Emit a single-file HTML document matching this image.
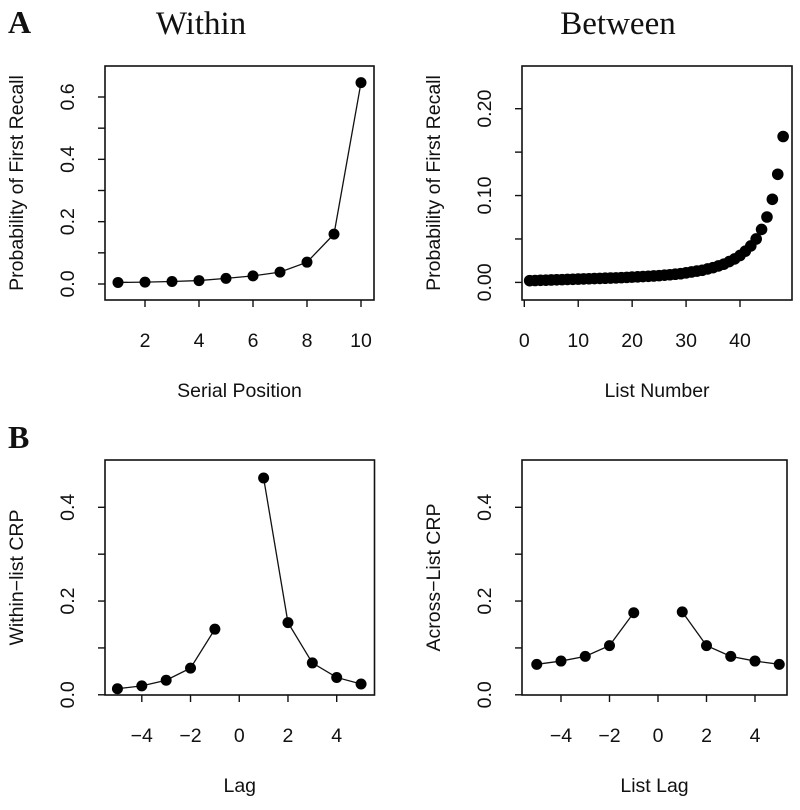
<!DOCTYPE html>
<html><head><meta charset="utf-8"><style>
body{margin:0;background:#fff;width:800px;height:805px;overflow:hidden}
text{font-family:"Liberation Sans",sans-serif;fill:#111}
</style></head><body>
<svg id="fig" width="800" height="805" xmlns="http://www.w3.org/2000/svg">
<text x="8" y="33" style="font-family:'Liberation Serif',serif;font-weight:bold;font-size:32px">A</text>
<text x="201" y="34" text-anchor="middle" style="font-family:'Liberation Serif',serif;font-size:33px">Within</text>
<text x="618" y="34" text-anchor="middle" style="font-family:'Liberation Serif',serif;font-size:33px">Between</text>
<text x="8" y="448" style="font-family:'Liberation Serif',serif;font-weight:bold;font-size:32px">B</text>
</svg>
<script>
const spX = [1,2,3,4,5,6,7,8,9,10];
const spY = [0.005,0.006,0.008,0.011,0.018,0.026,0.038,0.07,0.16,0.646];
const listX = Array.from({length:48},(_, i)=>i+1);
const listY = [0.002,0.0022,0.0024,0.0026,0.0028,0.003,0.0032,0.0034,0.0036,0.0038,0.004,0.0042,0.0044,0.0046,0.0048,0.005,0.0052,0.0055,0.0058,0.0061,0.0064,0.0067,0.007,0.0074,0.0078,0.0083,0.0088,0.0094,0.01,0.011,0.012,0.013,0.014,0.0155,0.017,0.019,0.021,0.024,0.027,0.031,0.036,0.042,0.05,0.061,0.0753,0.0957,0.1245,0.168];
const lagX = [-5,-4,-3,-2,-1,1,2,3,4,5];
const withinCRP = [0.013,0.019,0.031,0.057,0.140,0.4625,0.154,0.068,0.037,0.023];
const acrossCRP = [0.065,0.072,0.082,0.105,0.175,0.177,0.105,0.082,0.072,0.065];
const spXTicks = [2,4,6,8,10];
const spYTicks = [0,0.1,0.2,0.3,0.4,0.5,0.6];
const spYLabels = ["0.0","","0.2","","0.4","","0.6"];
const listXTicks = [0,10,20,30,40];
const listYTicks = [0,0.05,0.1,0.15,0.2];
const listYLabels = ["0.00","","0.10","","0.20"];
const lagXTicks = [-4,-2,0,2,4];
const crpYTicks = [0,0.1,0.2,0.3,0.4];
const crpYLabels = ["0.0","","0.2","","0.4"];

const NS="http://www.w3.org/2000/svg", svg=document.getElementById('fig');
function el(t,a,p){const e=document.createElementNS(NS,t);for(const k in a)e.setAttribute(k,a[k]);(p||svg).appendChild(e);return e;}

function panel(o){
  const g=el('g',{});
  
  
  const sx=v=>o.x0+(v-o.xa)*(o.x1-o.x0)/(o.xb-o.xa);
  const sy=v=>o.y0+(v-o.ya)*(o.y1-o.y0)/(o.yb-o.ya);
  const box=el('rect',{x:o.bx0,y:o.by0,width:o.bx1-o.bx0,height:o.by1-o.by0,fill:'none',stroke:'#111','stroke-width':1.6},g);
  
  
  o.xt.forEach(v=>{
    const x=sx(v);
    const t=el('line',{x1:x,x2:x,y1:o.by1,y2:o.by1+7,stroke:'#111','stroke-width':1.4},g);
    
    
    const l=el('text',{x:x,y:o.by1+47,'text-anchor':'middle','font-size':19.5},g);
    
    
    l.textContent=String(v).replace('-','\u2212');
  });
  o.yt.forEach((v,i)=>{
    const y=sy(v);
    const t=el('line',{x1:o.bx0-7,x2:o.bx0,y1:y,y2:y,stroke:'#111','stroke-width':1.4},g);
    
    
    if(o.yl[i]){
      const l=el('text',{x:0,y:0,'text-anchor':'middle','font-size':19.5,transform:`translate(${o.bx0-31},${y}) rotate(-90)`},g);
      
      
      l.textContent=o.yl[i];
    }
  });
  const xt=el('text',{x:(o.bx0+o.bx1)/2,y:o.by1+97,'text-anchor':'middle','font-size':19.5},g);
  
  
  xt.textContent=o.xtitle;
  const yt=el('text',{x:0,y:0,'text-anchor':'middle','font-size':19.5,transform:`translate(${o.bx0-82},${(o.by0+o.by1)/2}) rotate(-90)`},g);
  
  
  yt.textContent=o.ytitle;
  o.segs.forEach(seg=>{
    if(!o.line) return;
    const pl=el('polyline',{points:seg.map(i=>sx(o.X[i])+','+sy(o.Y[i])).join(' '),fill:'none',stroke:'#111','stroke-width':1.3},g);
    
    
  });
  o.X.forEach((v,i)=>{
    const c=el('circle',{cx:sx(v),cy:sy(o.Y[i]),r:o.r,fill:'#000'},g);
    
    
  });
}
panel({name:'serial-position-panel',bx0:105,bx1:374,by0:66,by1:300,xa:1,xb:10,x0:118,x1:361,ya:0,yb:0.6,y0:284,y1:97,
  xt:spXTicks,yt:spYTicks,yl:spYLabels,xtitle:'Serial Position',ytitle:'Probability of First Recall',
  X:spX,Y:spY,segs:[[0,1,2,3,4,5,6,7,8,9]],line:true,r:5.5});
panel({name:'list-number-panel',bx0:522,bx1:792,by0:66,by1:300,xa:0,xb:40,x0:524.3,x1:740,ya:0,yb:0.2,y0:282.4,y1:108.7,
  xt:listXTicks,yt:listYTicks,yl:listYLabels,xtitle:'List Number',ytitle:'Probability of First Recall',
  X:listX,Y:listY,segs:[],line:false,r:5.8});
panel({name:'within-crp-panel',bx0:105,bx1:374.5,by0:460,by1:695,xa:-4,xb:4,x0:141.8,x1:336.7,ya:0,yb:0.4,y0:694.8,y1:507.3,
  xt:lagXTicks,yt:crpYTicks,yl:crpYLabels,xtitle:'Lag',ytitle:'Within\u2212list CRP',
  X:lagX,Y:withinCRP,segs:[[0,1,2,3,4],[5,6,7,8,9]],line:true,r:5.5});
panel({name:'across-crp-panel',bx0:522,bx1:787,by0:460,by1:695,xa:-4,xb:4,x0:561,x1:755,ya:0,yb:0.4,y0:694.8,y1:507.3,
  xt:lagXTicks,yt:crpYTicks,yl:crpYLabels,xtitle:'List Lag',ytitle:'Across\u2212List CRP',
  X:lagX,Y:acrossCRP,segs:[[0,1,2,3,4],[5,6,7,8,9]],line:true,r:5.5});
</script>
</body></html>
